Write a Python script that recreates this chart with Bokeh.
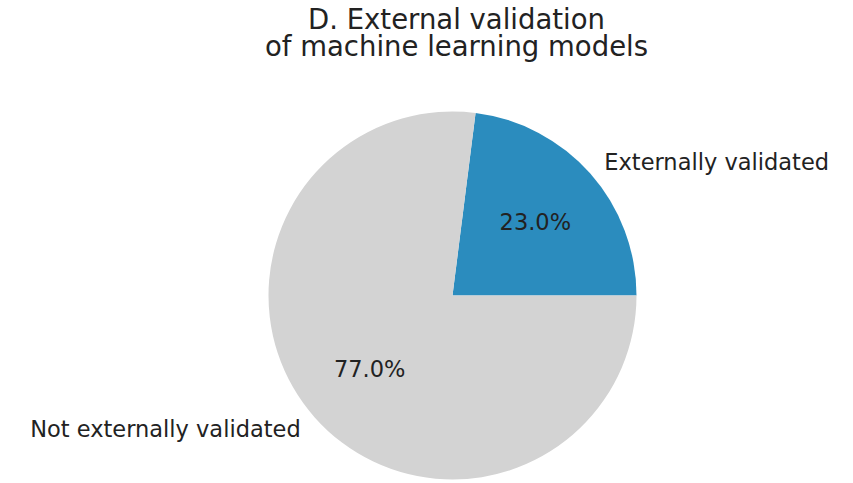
import numpy as np
from bokeh.plotting import figure
from bokeh.models import ColumnDataSource, Range1d
from bokeh.core.properties import value
from bokeh.embed import file_html
from bokeh.resources import INLINE

# ---- data ----
labels = ["Externally validated", "Not externally validated"]
shares = [23.0, 77.0]
colors = ["#2b8cbe", "#d3d3d3"]
title_lines = ["D. External validation", "of machine learning models"]

W, H = 853, 483
p = figure(width=W, height=H, output_backend="svg", toolbar_location=None,
           x_range=Range1d(0, W), y_range=Range1d(0, H),
           min_border=0, outline_line_color=None)
p.axis.visible = False
p.grid.visible = False

cx, cy, r = 452, H - 295, 184
frac = np.array(shares) / sum(shares)
ends = np.cumsum(frac) * 2 * np.pi
starts = ends - frac * 2 * np.pi
mids = (starts + ends) / 2

src = ColumnDataSource(dict(start=starts, end=ends, color=colors))
p.wedge(x=cx, y=cy, radius=r, start_angle="start", end_angle="end",
        fill_color="color", line_color=None, source=src)

font = value("DejaVu Sans")
lx = cx + 1.1 * r * np.cos(mids)
ly = cy + 1.1 * r * np.sin(mids)
align = ["left" if np.cos(m) >= 0 else "right" for m in mids]
p.text(x=lx, y=ly, text=labels, text_align=align, text_baseline="middle",
       text_font=font, text_font_size="22.5px", text_color="#222222")

px = cx + 0.6 * r * np.cos(mids)
py = cy + 0.6 * r * np.sin(mids)
p.text(x=px, y=py, text=[f"{s:.1f}%" for s in shares], text_align="center",
       text_baseline="middle", text_font=font, text_font_size="22.5px",
       text_color="#222222")

p.text(x=[456, 456], y=[H - 18, H - 45], text=title_lines, text_align="center",
       text_baseline="alphabetic", text_font=font, text_font_size="27.5px",
       text_color="#222222")

open("out.html", "w").write(file_html(p, INLINE))
